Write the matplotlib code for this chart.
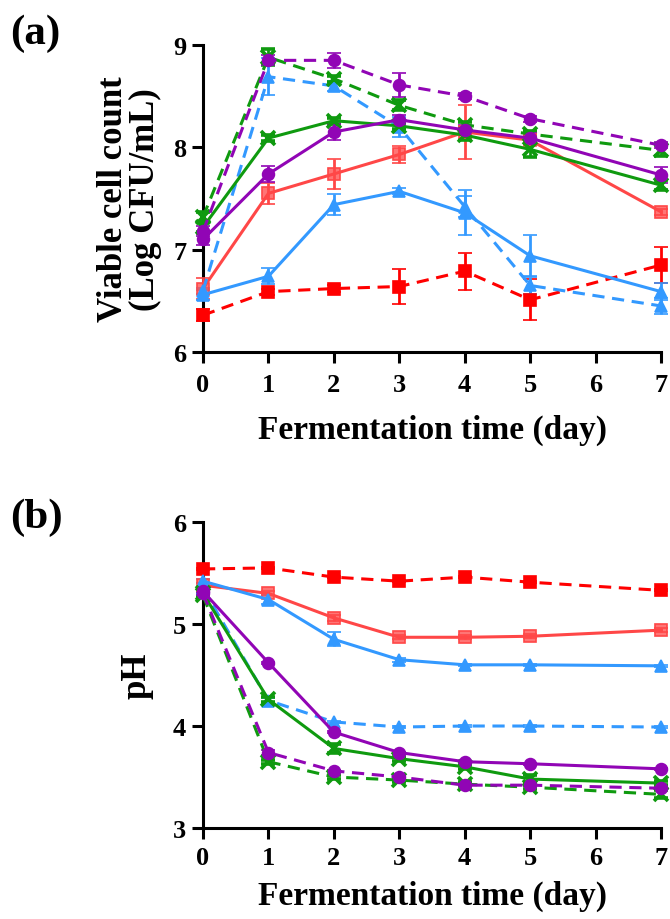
import matplotlib
matplotlib.use("Agg")
import matplotlib.pyplot as plt

plt.rcParams['font.family'] = ['Liberation Serif', 'DejaVu Serif']
plt.rcParams['font.weight'] = 'bold'

days = [0, 1, 2, 3, 4, 5, 7]

# (a) viable cell count, Log CFU/mL
cnt_red_solid = [6.62, 7.55, 7.74, 7.93, 8.15, 8.07, 7.37]
cnt_red_dash = [6.36, 6.59, 6.62, 6.64, 6.79, 6.51, 6.85]
cnt_blue_solid = [6.56, 6.74, 7.44, 7.57, 7.36, 6.94, 6.59]
cnt_blue_dash = [6.60, 8.69, 8.60, 8.20, 7.42, 6.65, 6.45]
cnt_green_solid = [7.22, 8.09, 8.26, 8.21, 8.12, 7.98, 7.63]
cnt_green_dash = [7.32, 8.88, 8.67, 8.41, 8.22, 8.13, 7.97]
cnt_purple_solid = [7.10, 7.74, 8.15, 8.27, 8.17, 8.09, 7.73]
cnt_purple_dash = [7.18, 8.85, 8.85, 8.61, 8.50, 8.28, 8.02]

cnt_err_red_solid = [0.10, 0.10, 0.15, 0.08, 0.26, 0.05, 0.03]
cnt_err_red_dash = [0.06, 0.03, 0.03, 0.17, 0.18, 0.20, 0.18]
cnt_err_blue_solid = [0.05, 0.08, 0.10, 0.03, 0.22, 0.20, 0.08]
cnt_err_blue_dash = [0.03, 0.18, 0.05, 0.10, 0.10, 0.08, 0.08]
cnt_err_green_solid = [0.05, 0.03, 0.03, 0.03, 0.05, 0.07, 0.05]
cnt_err_green_dash = [0.05, 0.08, 0.03, 0.05, 0.03, 0.03, 0.05]
cnt_err_purple_solid = [0.05, 0.08, 0.08, 0.05, 0.05, 0.05, 0.08]
cnt_err_purple_dash = [0.05, 0.05, 0.07, 0.12, 0.03, 0.03, 0.03]

# (b) pH
ph_red_solid = [5.38, 5.30, 5.06, 4.87, 4.87, 4.88, 4.94]
ph_red_dash = [5.54, 5.55, 5.46, 5.42, 5.46, 5.41, 5.33]
ph_blue_solid = [5.42, 5.24, 4.85, 4.65, 4.60, 4.60, 4.59]
ph_blue_dash = [5.35, 4.25, 4.04, 3.99, 4.00, 4.00, 3.99]
ph_green_solid = [5.30, 4.26, 3.78, 3.68, 3.60, 3.48, 3.44]
ph_green_dash = [5.28, 3.65, 3.50, 3.47, 3.43, 3.40, 3.33]
ph_purple_solid = [5.32, 4.62, 3.94, 3.74, 3.65, 3.63, 3.58]
ph_purple_dash = [5.30, 3.74, 3.56, 3.50, 3.42, 3.42, 3.39]

ph_err_red_solid = [0.02, 0.02, 0.03, 0.02, 0.02, 0.02, 0.02]
ph_err_red_dash = [0.01, 0.01, 0.01, 0.01, 0.01, 0.01, 0.01]
ph_err_blue_solid = [0.02, 0.04, 0.07, 0.02, 0.01, 0.01, 0.01]
ph_err_blue_dash = [0.02, 0.02, 0.01, 0.01, 0.01, 0.01, 0.01]
ph_err_green_solid = [0.02, 0.02, 0.04, 0.02, 0.02, 0.04, 0.02]
ph_err_green_dash = [0.02, 0.02, 0.02, 0.02, 0.02, 0.02, 0.04]
ph_err_purple_solid = [0.02, 0.01, 0.01, 0.01, 0.01, 0.01, 0.01]
ph_err_purple_dash = [0.02, 0.02, 0.01, 0.01, 0.01, 0.01, 0.01]

RED_L = '#ff4747'
RED = '#ff0000'
BLUE = '#3399ff'
GREEN = '#0f9a0f'
PURPLE = '#9105b5'

# color, marker, linestyle per series (same order in both panels)
styles = [
    (RED_L, 's', '-'),
    (RED, 's', '--'),
    (BLUE, '^', '-'),
    (BLUE, '^', '--'),
    (GREEN, 'x', '-'),
    (GREEN, 'x', '--'),
    (PURPLE, 'o', '-'),
    (PURPLE, 'o', '--'),
]

counts = [cnt_red_solid, cnt_red_dash, cnt_blue_solid, cnt_blue_dash,
          cnt_green_solid, cnt_green_dash, cnt_purple_solid, cnt_purple_dash]
count_errs = [cnt_err_red_solid, cnt_err_red_dash, cnt_err_blue_solid, cnt_err_blue_dash,
              cnt_err_green_solid, cnt_err_green_dash, cnt_err_purple_solid, cnt_err_purple_dash]
phs = [ph_red_solid, ph_red_dash, ph_blue_solid, ph_blue_dash,
       ph_green_solid, ph_green_dash, ph_purple_solid, ph_purple_dash]
ph_errs = [ph_err_red_solid, ph_err_red_dash, ph_err_blue_solid, ph_err_blue_dash,
           ph_err_green_solid, ph_err_green_dash, ph_err_purple_solid, ph_err_purple_dash]

fig = plt.figure(figsize=(6.7, 9.2), dpi=100)
ax1 = fig.add_axes([0.303, 0.6163, 0.6836, 0.3337])
ax2 = fig.add_axes([0.303, 0.0989, 0.6836, 0.3326])


def draw(ax, ys, errs):
    for y, e, (c, m, ls) in zip(ys, errs, styles):
        if m == 's' and ls == '-':
            face = (1.0, 0.28, 0.28, 0.75)
        else:
            face = c
        ax.errorbar(days, y, yerr=e, color=c, marker=m, linestyle=ls,
                    linewidth=2.2, markersize=8.5 if m != 'x' else 9.5,
                    markerfacecolor=face, markeredgecolor=c,
                    markeredgewidth=2.6 if m == 'x' else 1.2,
                    elinewidth=2.0, capsize=5, capthick=2.0,
                    dashes=(4, 2.5) if ls == '--' else (None, None),
                    clip_on=False, zorder=3)


draw(ax1, counts, count_errs)
draw(ax2, phs, ph_errs)

panels = [(ax1, 6, 9, 'Viable cell count\n(Log CFU/mL)', 8, 7, 13),
          (ax2, 3, 6, 'pH', 14, 5, 8)]
for ax, lo, hi, lab, lp, xpad, xlp in panels:
    ax.set_xlim(0, 7)
    ax.set_ylim(lo, hi)
    ax.set_xticks(range(0, 8))
    ax.set_yticks(range(lo, hi + 1))
    for s in ['top', 'right']:
        ax.spines[s].set_visible(False)
    for s in ['left', 'bottom']:
        ax.spines[s].set_linewidth(2.2)
    ax.tick_params(width=2.2, length=8, labelsize=19, pad=4)
    ax.tick_params(axis='x', pad=xpad)
    for t in ax.get_xticklabels() + ax.get_yticklabels():
        t.set_fontweight('bold')
    ax.set_xlabel('Fermentation time (day)', fontsize=24, fontweight='bold', labelpad=xlp)
    ax.set_ylabel(lab, fontsize=25, fontweight='bold', labelpad=lp, linespacing=0.95)

fig.text(0.015, 0.952, '(a)', fontsize=31, fontweight='bold')
fig.text(0.015, 0.426, '(b)', fontsize=31, fontweight='bold')

fig.savefig('out.png', dpi=100)
